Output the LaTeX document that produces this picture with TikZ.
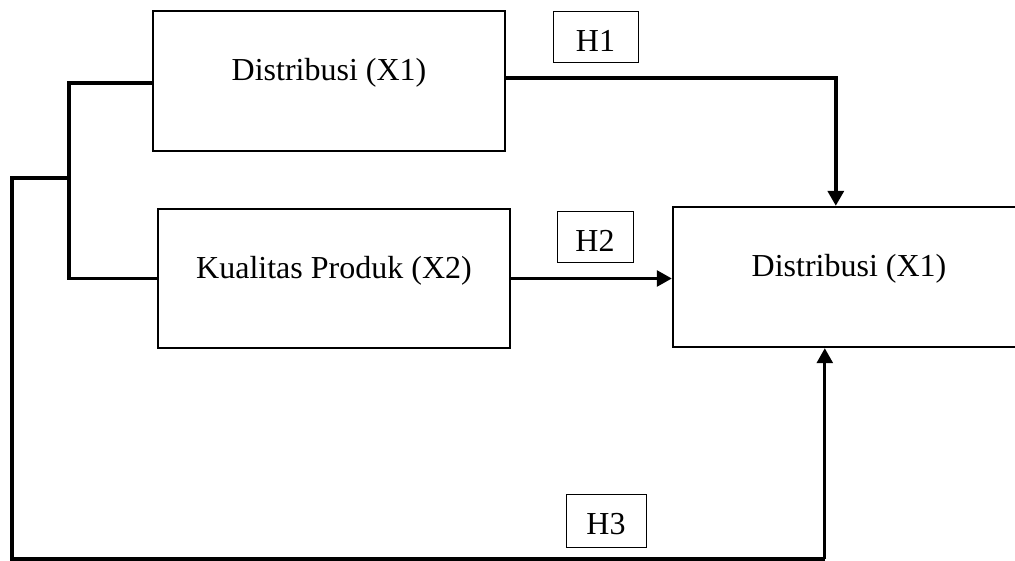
\documentclass[tikz,border=0pt]{standalone}
\usepackage{fontspec}
\setmainfont{Liberation Serif}
\usetikzlibrary{arrows.meta,calc}
\begin{document}
\begin{tikzpicture}[x=1pt,y=-1pt,
  bigbox/.style={draw, line width=2.4pt, minimum width=352pt, minimum height=140pt, inner sep=0pt,
    font=\fontsize{32}{38}\selectfont, text height=19pt, text depth=19pt},
  hbox/.style={draw, line width=1pt, inner sep=0pt, font=\fontsize{32}{38}\selectfont,
    text height=28pt, text depth=0pt},
  conn/.style={line width=3.5pt},
  thinconn/.style={line width=2.7pt},
  tip/.style={-{Triangle[length=15pt,width=16pt]}}]
\useasboundingbox (0,0) rectangle (1015,561);
\node[bigbox] (b1) at (329,81) {Distribusi (X1)};
\node[bigbox, minimum height=139pt] (b2) at (334,278.5) {Kualitas Produk (X2)};
\node[bigbox] (b3) at (849,277) {Distribusi (X1)};
\node[hbox, minimum width=85pt, minimum height=51pt] (h1) at (595.5,37.5) {H1};
\node[hbox, minimum width=76pt, minimum height=51pt] (h2) at (595,237.5) {H2};
\node[hbox, minimum width=80pt, minimum height=53pt] (h3) at (606,520.5) {H3};
% helper points
\coordinate (j) at (70,178);
\coordinate (bl) at (12,559);
\coordinate (in3) at ($(b3.south west)+(153,0)$);
\coordinate (in1) at ($(b3.north west)+(164,0)$);
% left bracket
\draw[conn] (b1.west) ++(0,2) -- ++(-83,0) |- (b2.west);
\draw[conn] (j) -- (j -| bl) -- (bl) -- (in3 |- bl);
\draw[thinconn, tip] (in3 |- bl) -- (in3);
% H1
\draw[conn, tip] (b1.east) ++(0,-3) -| (in1);
% H2
\draw[thinconn, tip] (b2.east) -- (b3.west |- b2.east);
\end{tikzpicture}
\end{document}
